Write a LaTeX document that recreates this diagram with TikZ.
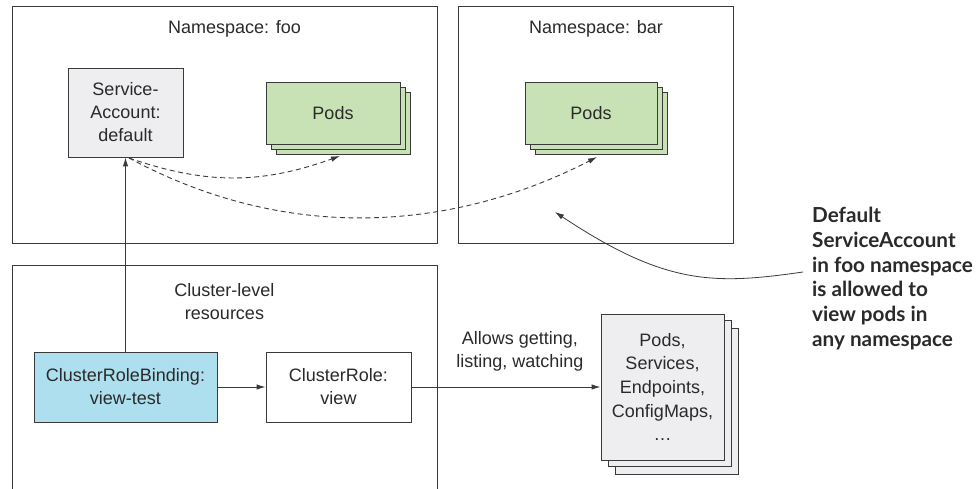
\documentclass[tikz,border=0pt]{standalone}
\usepackage{fontspec}
\setmainfont{Liberation Sans}
\newfontfamily\annfont{Lato}
\usetikzlibrary{arrows.meta,calc}
\definecolor{ln}{HTML}{3A3A3A}
\definecolor{txt}{HTML}{2A2A2A}
\definecolor{podgreen}{HTML}{C8E2B6}
\definecolor{crbblue}{HTML}{AEDFEE}
\definecolor{sagray}{HTML}{EEEEF0}
\begin{document}
\begin{tikzpicture}[x=1pt,y=-1pt,
  every node/.style={text=txt,font=\fontsize{18}{23}\selectfont},
  container/.style={draw=ln,line width=0.9pt,inner sep=0pt,anchor=north west},
  boxstyle/.style={draw=ln,line width=0.9pt,align=center,inner sep=0pt},
  podstyle/.style={boxstyle,fill=podgreen,minimum width=134,minimum height=62},
  resstyle/.style={boxstyle,fill=sagray,minimum width=123,minimum height=146},
  arr/.style={draw=ln,line width=0.9pt,-{Latex[length=9pt,width=5.5pt]}},
  dasharr/.style={arr,dash pattern=on 5pt off 3.5pt},
  annarr/.style={draw=ln,line width=0.8pt,-{Latex[length=9pt,width=5.5pt]}}]
\useasboundingbox[fill=white] (0,0) rectangle (978,489);

% containers
\node[container,minimum width=425,minimum height=237] (foo) at (12,6) {};
\node[container,minimum width=275,minimum height=237] (bar) at (458,6) {};
\node[container,minimum width=425,minimum height=260] (cluster) at (12,265) {};

\node (footitle) at (234.5,29) {Namespace: foo};
\node (bartitle) at (596,29) {Namespace: bar};
\node[align=center] (clustertitle) at (224.5,301.5) {Cluster-level\\resources};

% service account
\node[boxstyle,fill=sagray,minimum width=115,minimum height=89] (sa) at (125.5,112.5) {Service-\\Account:\\default};

% pods foo
\node[podstyle] (fpods3) at (343,123) {};
\node[podstyle] (fpods2) at (338,118) {};
\node[podstyle] (fpods) at (333,113) {Pods};

% pods bar
\node[podstyle,minimum width=132] (bpods3) at (601,123) {};
\node[podstyle,minimum width=132] (bpods2) at (596,118) {};
\node[podstyle,minimum width=132] (bpods) at (591,113) {Pods};

% cluster-level
\node[boxstyle,fill=crbblue,minimum width=183,minimum height=70] (crb) at (125.5,387) {ClusterRoleBinding:\\view-test};
\node[boxstyle,fill=white,minimum width=145,minimum height=70] (cr) at (338.5,387) {ClusterRole:\\view};

% resources
\node[resstyle] (res3) at (677,401) {};
\node[resstyle] (res2) at (669.5,393.5) {};
\node[resstyle,font=\fontsize{18}{23.7}\selectfont] (res) at (662.5,387) {Pods,\\Services,\\Endpoints,\\ConfigMaps,\\\dots};

\node[align=center] (allows) at (520,351.5) {Allows getting,\\listing, watching};

% connectors
\draw[arr] (crb.north) -- (sa.south);
\draw[arr] (crb.east) -- (cr.west);
\draw[arr] (cr.east) -- (res.west |- cr.east);

\coordinate (ds) at (129,158);
\coordinate (fpe) at (340,156);
\coordinate (bpe) at (597,157);
\draw[dasharr] (ds) .. controls (207,185) and (262,184) .. (fpe);
\draw[dasharr] (ds) .. controls (300,250) and (467,224) .. (bpe);

% annotation
\node[anchor=north west,align=left,inner sep=0pt,
      font=\annfont\bfseries\fontsize{20.7}{24.8}\selectfont] (ann) at (812,207)
  {Default\\ServiceAccount\\in foo namespace\\is allowed to\\view pods in\\any namespace};
\coordinate (annstart) at (803,272);
\coordinate (annend) at (555,212);
\draw[annarr] (annstart) .. controls (713,285) and (665,285) .. (annend);
\end{tikzpicture}
\end{document}
